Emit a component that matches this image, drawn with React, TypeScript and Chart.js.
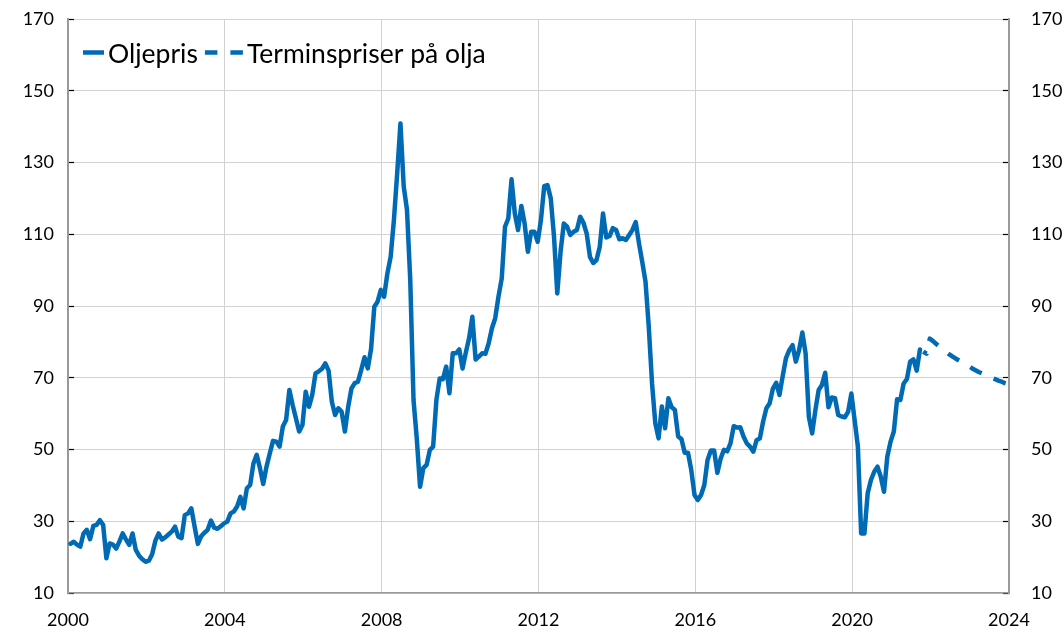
import React, { useEffect, useRef } from "react";
import { Chart, registerables } from "chart.js";

Chart.register(...registerables);

// ---------- data ----------
const SERIES_LABELS = ["Oljepris", "Terminspriser på olja"];
const FIRST_YEAR = 2000;
const MONTH_POSITION = 0.75; // where inside each month the monthly value is plotted
const X_TICKS = [2000, 2004, 2008, 2012, 2016, 2020, 2024];
const Y_TICKS = [10, 30, 50, 70, 90, 110, 130, 150, 170];

const oil2000 = [23.7, 24.3, 23.5, 22.9, 26.6, 27.6, 25.0, 28.7, 29.0, 30.3, 29.0, 19.7];
const oil2001 = [23.8, 23.5, 22.4, 24.4, 26.6, 24.9, 23.4, 26.6, 22.0, 20.4, 19.4, 18.7];
const oil2002 = [19.0, 20.8, 24.6, 26.6, 24.9, 25.5, 26.3, 27.1, 28.5, 25.7, 25.3, 31.7];
const oil2003 = [32.2, 33.6, 28.5, 23.7, 25.8, 26.8, 27.6, 30.2, 28.2, 27.9, 28.6, 29.4];
const oil2004 = [29.9, 32.2, 32.7, 34.1, 36.8, 33.6, 39.2, 40.1, 46.1, 48.5, 44.8, 40.4];
const oil2005 = [45.2, 48.9, 52.4, 52.2, 50.8, 56.4, 58.2, 66.6, 62.4, 58.7, 55.0, 56.8];
const oil2006 = [66.1, 61.9, 65.2, 71.2, 71.8, 72.5, 74.0, 72.0, 63.3, 59.6, 61.5, 60.5];
const oil2007 = [55.0, 61.9, 67.0, 68.5, 68.9, 72.2, 75.7, 72.6, 78.0, 89.8, 91.2, 94.5];
const oil2008 = [92.6, 99.1, 103.7, 114.0, 127.0, 140.9, 123.3, 116.8, 97.2, 63.8, 53.0, 39.6];
const oil2009 = [44.8, 45.7, 49.9, 50.8, 63.8, 69.8, 69.6, 73.1, 65.7, 76.8, 76.8, 77.9];
const oil2010 = [72.6, 77.0, 81.0, 87.0, 75.1, 75.9, 76.8, 76.7, 79.6, 83.8, 86.6, 92.6];
const oil2011 = [97.7, 112.1, 114.4, 125.3, 115.8, 111.2, 117.9, 113.0, 105.1, 110.7, 110.7, 107.9];
const oil2012 = [114.0, 123.4, 123.7, 120.0, 109.3, 93.5, 105.1, 113.0, 112.1, 109.8, 110.7, 111.2];
const oil2013 = [114.9, 113.2, 110.2, 103.7, 102.0, 102.8, 106.5, 115.8, 109.1, 109.5, 111.7, 111.2];
const oil2014 = [108.6, 108.9, 108.4, 109.8, 111.2, 113.4, 107.5, 102.3, 96.8, 84.2, 68.4, 57.3];
const oil2015 = [53.1, 62.0, 55.9, 64.3, 61.8, 61.0, 53.6, 52.9, 49.1, 49.1, 44.3, 37.3];
const oil2016 = [35.9, 37.3, 40.1, 47.1, 49.7, 49.7, 43.5, 47.5, 49.9, 49.5, 51.7, 56.5];
const oil2017 = [56.1, 56.2, 53.6, 51.7, 50.8, 49.4, 52.6, 53.1, 57.8, 61.5, 62.9, 67.0];
const oil2018 = [68.6, 65.2, 70.5, 75.5, 77.7, 79.1, 74.5, 77.7, 82.6, 76.8, 59.1, 54.5];
const oil2019 = [61.0, 66.6, 68.0, 71.4, 61.8, 64.5, 64.3, 59.6, 59.2, 59.0, 60.5, 65.6];
const oil2020 = [58.2, 50.8, 26.6, 26.6, 37.8, 41.5, 43.8, 45.2, 42.4, 38.2, 48.0, 52.2];
const oil2021 = [55.0, 64.0, 63.8, 68.4, 69.6, 74.5, 75.1, 72.0, 77.9];

// futures, monthly from Oct 2021 (month index 261) to Dec 2023
const FUTURES_START_MONTH = 261;
const futures = [
  77.3, 76.7, 80.9, 80.2, 79.4, 78.7, 78.0, 77.2, 76.5, 75.9, 75.3, 74.8, 74.3, 73.7,
  73.2, 72.6, 72.1, 71.6, 71.2, 70.8, 70.4, 70.0, 69.6, 69.2, 68.9, 68.5, 68.2,
];

const oilPrice = [
  ...oil2000, ...oil2001, ...oil2002, ...oil2003, ...oil2004, ...oil2005, ...oil2006,
  ...oil2007, ...oil2008, ...oil2009, ...oil2010, ...oil2011, ...oil2012, ...oil2013,
  ...oil2014, ...oil2015, ...oil2016, ...oil2017, ...oil2018, ...oil2019, ...oil2020,
  ...oil2021,
];

const monthToX = (m: number) => FIRST_YEAR + (m + MONTH_POSITION) / 12;

// ---------- styles ----------
const BLUE = "#006AB4";
const GRID = "#d2d2d2";
const AXIS = "#9a9a9a";
const FONT = "Lato";

const insideLegend = {
  id: "insideLegend",
  afterDatasetsDraw(chart: any, _args: any, opts: any) {
    const ctx = chart.ctx;
    const { left, top } = chart.chartArea;
    let x = left + opts.offsetX;
    const y = top + opts.offsetY;
    ctx.save();
    ctx.font = `${opts.fontSize}px ${FONT}`;
    ctx.textBaseline = "alphabetic";
    chart.data.datasets.forEach((ds: any, k: number) => {
      const w = opts.sampleWidths[k];
      ctx.beginPath();
      ctx.strokeStyle = ds.borderColor;
      ctx.lineWidth = ds.borderWidth;
      ctx.lineCap = "butt";
      ctx.setLineDash(opts.dashes[k]);
      ctx.moveTo(x, y);
      ctx.lineTo(x + w, y);
      ctx.stroke();
      ctx.setLineDash([]);
      x += w + opts.textGap;
      ctx.fillStyle = "#000";
      ctx.fillText(ds.label, x, y + opts.baseline);
      x += ctx.measureText(ds.label).width + opts.itemGap;
    });
    ctx.restore();
  },
};

export default function App() {
  const ref = useRef<HTMLCanvasElement | null>(null);

  useEffect(() => {
    if (!ref.current) return;
    const setTicks = (values: number[]) => (scale: any) => {
      scale.ticks = values.map((v) => ({ value: v }));
    };
    const fitY = (w: number) => (s: any) => {
      s.width = w;
      s.paddingTop = 0;
      s.paddingBottom = 0;
    };
    const chart = new Chart(ref.current, {
      type: "line",
      data: {
        datasets: [
          {
            label: SERIES_LABELS[0],
            data: oilPrice.map((v, i) => ({ x: monthToX(i), y: v })),
            borderColor: BLUE,
            backgroundColor: BLUE,
            borderWidth: 4.5,
            borderJoinStyle: "round",
            borderCapStyle: "round",
            pointRadius: 0,
            tension: 0,
          },
          {
            label: SERIES_LABELS[1],
            data: futures.map((v, i) => ({ x: monthToX(FUTURES_START_MONTH + i), y: v })),
            borderColor: BLUE,
            backgroundColor: BLUE,
            borderWidth: 4.5,
            borderDash: [13, 13],
            borderDashOffset: 9,
            borderCapStyle: "butt",
            borderJoinStyle: "round",
            pointRadius: 0,
            tension: 0,
          },
        ],
      },
      options: {
        animation: false,
        responsive: false,
        layout: { padding: { top: 19, left: 0, right: 0, bottom: 0 } },
        plugins: {
          legend: { display: false },
          tooltip: { enabled: false },
          insideLegend: {
            offsetX: 15,
            offsetY: 33.5,
            sampleWidths: [21, 38],
            dashes: [[], [12.5, 13]],
            textGap: 4,
            itemGap: 7,
            fontSize: 26.5,
            baseline: 10,
          },
        } as any,
        scales: {
          x: {
            type: "linear",
            min: 2000,
            max: 2024,
            afterBuildTicks: setTicks(X_TICKS),
            afterFit: (s: any) => {
              s.height = 40;
            },
            grid: { color: GRID, lineWidth: 1, drawTicks: false },
            border: { display: true, color: AXIS, width: 1.5 },
            ticks: {
              color: "#000",
              font: { family: FONT, size: 18 },
              padding: 16,
              maxRotation: 0,
              callback: (v: any) => String(v),
            },
          },
          y: {
            type: "linear",
            position: "left",
            min: 10,
            max: 170,
            afterBuildTicks: setTicks(Y_TICKS),
            afterFit: fitY(68),
            grid: { color: GRID, lineWidth: 1, tickLength: -6, tickColor: "#000", tickWidth: 1.2 },
            border: { display: true, color: AXIS, width: 2 },
            ticks: { color: "#000", font: { family: FONT, size: 18 }, padding: 20 },
          },
          y2: {
            type: "linear",
            position: "right",
            min: 10,
            max: 170,
            afterBuildTicks: setTicks(Y_TICKS),
            afterFit: fitY(55),
            grid: { drawOnChartArea: false, tickLength: -6, tickColor: "#000", tickWidth: 1.2 },
            border: { display: true, color: AXIS, width: 2 },
            ticks: { color: "#000", font: { family: FONT, size: 18 }, padding: 28 },
          },
        },
      } as any,
      plugins: [insideLegend as any],
    });
    return () => chart.destroy();
  }, []);

  return (
    <div style={{ position: "fixed", left: 0, top: 0, width: 1064, height: 633, background: "#fff" }}>
      <canvas ref={ref} width={1064} height={633} style={{ display: "block" }} />
    </div>
  );
}
